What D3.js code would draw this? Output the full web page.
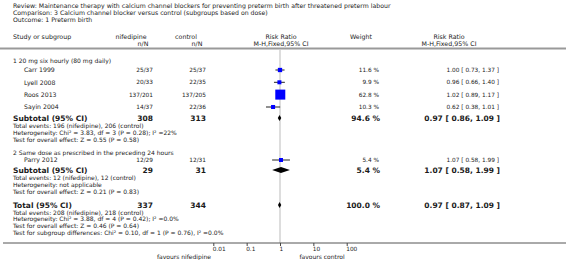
<!DOCTYPE html>
<html><head><meta charset="utf-8">
<script src="https://cdn.jsdelivr.net/npm/d3@7"></script>
<style>
html,body{margin:0;padding:0;background:#fff;}
svg{display:block;font-family:"DejaVu Sans",sans-serif;}
</style></head>
<body><svg id="c" width="566" height="260"></svg>
<script>
// ---- data ----
const titleLines = [
  "Review:  Maintenance therapy with calcium channel blockers for preventing preterm birth after threatened preterm labour",
  "Comparison:  3 Calcium channel blocker versus control (subgroups based on dose)",
  "Outcome:  1 Preterm birth"
];
const groupTitles = ["1 20 mg six hourly (80 mg daily)", "2 Same dose as prescribed in the preceding 24 hours"];
const studyNames  = ["Carr 1999", "Lyell 2008", "Roos 2013", "Sayin 2004", "Parry 2012"];
const studyGroup  = [0, 0, 0, 0, 1];
const studyNif    = ["25/37", "20/33", "137/201", "14/37", "12/29"];
const studyCtl    = ["25/37", "22/35", "137/205", "22/36", "12/31"];
const studyWeight = [11.6, 9.9, 62.8, 10.3, 5.4];
const studyRR     = [1.00, 0.96, 1.02, 0.62, 1.07];
const studyLo     = [0.73, 0.66, 0.89, 0.38, 0.58];
const studyHi     = [1.37, 1.40, 1.17, 1.01, 1.99];

const subNif    = [308, 29];
const subCtl    = [313, 31];
const subWeight = [94.6, 5.4];
const subRR     = [0.97, 1.07];
const subLo     = [0.86, 0.58];
const subHi     = [1.09, 1.99];
const subNotes  = [
  ["Total events: 196 (nifedipine), 206 (control)",
   "Heterogeneity: Chi² = 3.83, df = 3 (P = 0.28); I² =22%",
   "Test for overall effect: Z = 0.55 (P = 0.58)"],
  ["Total events: 12 (nifedipine), 12 (control)",
   "Heterogeneity: not applicable",
   "Test for overall effect: Z = 0.21 (P = 0.83)"]
];
const totalNif = 337, totalCtl = 344, totalWeight = 100.0;
const totalRR = 0.97, totalLo = 0.87, totalHi = 1.09;
const totalNotes = [
  "Total events: 208 (nifedipine), 218 (control)",
  "Heterogeneity: Chi² = 3.88, df = 4 (P = 0.42); I² =0.0%",
  "Test for overall effect: Z = 0.46 (P = 0.64)",
  "Test for subgroup differences: Chi² = 0.10, df = 1 (P = 0.76), I² =0.0%"
];
const tickValues = [0.01, 0.1, 1, 10, 100];
const tickLabels = ["0.01", "0.1", "1", "10", "100"];
const favoursLabels = ["favours nifedipine", "favours control"];

// ---- layout ----
const svg = d3.select("#c");
const x = d3.scaleLog().domain([0.01, 100]).range([213.3, 346.7]);
const txt = "#1a1a1a";
const fs = 6, fsB = 7.5, fsH = 6.3;
const colStudy = 13, colName = 24, colNif = 153, colCtl = 206, colW = 379, colCI = 499;
const fmt2 = d3.format(".2f");
const ciText = (r,l,h) => `${fmt2(r)} [ ${fmt2(l)}, ${fmt2(h)} ]`;

function text(s, xx, yy, o = {}) {
  return svg.append("text").attr("x", xx).attr("y", yy + (o.size || fs) * 0.36)
    .attr("font-size", o.size || fs).attr("font-weight", o.bold ? "bold" : "normal")
    .attr("text-anchor", o.anchor || "start").attr("fill", o.fill || txt).text(s);
}

// titles
titleLines.forEach((t, i) => text(t, colStudy, 6 + i * 7, {size: 6.2}));
// headers
text("Study or subgroup", colStudy, 37, {size: fsH});
text("nifedipine", 131, 37, {size: fsH, anchor: "middle"});
text("n/N", 143, 44, {size: fsH, anchor: "middle"});
text("control", 186, 37, {size: fsH, anchor: "middle"});
text("n/N", 197, 44, {size: fsH, anchor: "middle"});
text("Risk Ratio", 281, 37, {size: fsH, anchor: "middle"});
text("M-H,Fixed,95% CI", 281, 44, {size: fsH, anchor: "middle"});
text("Weight", 350, 37, {size: fsH});
text("Risk Ratio", 449, 37, {size: fsH, anchor: "middle"});
text("M-H,Fixed,95% CI", 449, 44, {size: fsH, anchor: "middle"});
svg.append("line").attr("x1", 0).attr("x2", 566).attr("y1", 48.5).attr("y2", 48.5)
  .attr("stroke", "#999").attr("stroke-width", 2);

// vertical line at 1
const axisY = 243;
svg.append("line").attr("x1", x(1)).attr("x2", x(1)).attr("y1", 50).attr("y2", axisY)
  .attr("stroke", "#ddd").attr("stroke-width", 2);

// row positions
const groupTitleY = [61, 153];
const studyY = [70, 82.3, 94.6, 107, 160];
const subY = [118, 170];
const noteStart = [126, 178];
const noteStep = 6.8;
const totalY = 205;

groupTitles.forEach((g, i) => text(g, colStudy, groupTitleY[i]));

const side = d3.scaleSqrt().domain([0, 62.8]).range([0, 10]);
studyNames.forEach((n, i) => {
  const y = studyY[i];
  text(n, colName, y, {size: 6.2});
  text(studyNif[i], colNif, y, {anchor: "end", size: 5.8});
  text(studyCtl[i], colCtl, y, {anchor: "end", size: 5.8});
  text(studyWeight[i].toFixed(1) + " %", colW, y, {anchor: "end", size: 5.8});
  text(ciText(studyRR[i], studyLo[i], studyHi[i]), colCI, y, {anchor: "end", size: 5.8});
  svg.append("line").attr("x1", x(studyLo[i])).attr("x2", x(studyHi[i]))
    .attr("y1", y).attr("y2", y).attr("stroke", "#222").attr("stroke-width", 1);
  const s = Math.max(4, side(studyWeight[i]));
  svg.append("rect").attr("x", x(studyRR[i]) - s / 2).attr("y", y - s / 2)
    .attr("width", s).attr("height", s).attr("fill", "#0000ff");
});

function diamond(r, l, h, y, hh) {
  svg.append("path").attr("d", `M${x(l)},${y}L${x(r)},${y - hh}L${x(h)},${y}L${x(r)},${y + hh}Z`)
    .attr("fill", "#000");
}

subY.forEach((y, i) => {
  text("Subtotal (95% CI)", colStudy, y, {bold: true, size: fsB});
  text(String(subNif[i]), colNif, y, {bold: true, size: fsB, anchor: "end"});
  text(String(subCtl[i]), colCtl, y, {bold: true, size: fsB, anchor: "end"});
  text(subWeight[i].toFixed(1) + " %", colW + 1, y, {bold: true, size: fsB, anchor: "end"});
  text(ciText(subRR[i], subLo[i], subHi[i]), colCI + 1, y, {bold: true, size: fsB, anchor: "end"});
  diamond(subRR[i], subLo[i], subHi[i], y, 3);
  subNotes[i].forEach((t, j) => text(t, colStudy, noteStart[i] + j * noteStep));
});

text("Total (95% CI)", colStudy, totalY, {bold: true, size: fsB});
text(String(totalNif), colNif, totalY, {bold: true, size: fsB, anchor: "end"});
text(String(totalCtl), colCtl, totalY, {bold: true, size: fsB, anchor: "end"});
text(totalWeight.toFixed(1) + " %", colW + 1, totalY, {bold: true, size: fsB, anchor: "end"});
text(ciText(totalRR, totalLo, totalHi), colCI + 1, totalY, {bold: true, size: fsB, anchor: "end"});
diamond(totalRR, totalLo, totalHi, totalY, 3);
totalNotes.forEach((t, j) => text(t, colStudy, 212.5 + j * noteStep));

// axis
svg.append("line").attr("x1", 3).attr("x2", 566).attr("y1", axisY).attr("y2", axisY)
  .attr("stroke", "#555").attr("stroke-width", 1);
const axis = d3.axisBottom(x).tickValues(tickValues).tickSize(3)
  .tickFormat((d, i) => tickLabels[i]);
const ag = svg.append("g").attr("transform", `translate(0,${axisY})`).call(axis);
ag.select(".domain").remove();
ag.selectAll(".tick line").attr("stroke", "#444");
ag.selectAll(".tick text").attr("font-size", 5.8).attr("font-family", "DejaVu Sans")
  .attr("fill", txt).attr("text-anchor", "start").attr("dx", -1).attr("y", 4).attr("dy", "0.75em");
text(favoursLabels[0], 184, 256.5, {anchor: "middle"});
text(favoursLabels[1], 322, 256.5, {anchor: "middle"});
</script></body></html>
